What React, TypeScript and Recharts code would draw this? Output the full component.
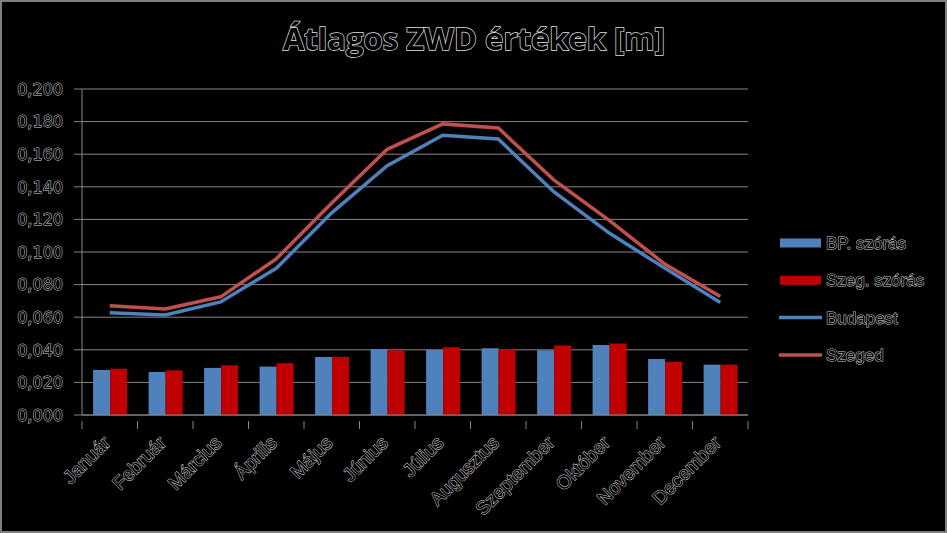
import React from "react";
import {
  ComposedChart,
  Bar,
  Line,
  XAxis,
  YAxis,
  CartesianGrid,
  Legend,
} from "recharts";

const months = [
  "Január", "Február", "Március", "Április", "Május", "Június",
  "Július", "Augusztus", "Szeptember", "Október", "November", "December",
];

const bpSzoras = [0.0276, 0.0264, 0.0289, 0.0297, 0.0356, 0.0405, 0.0399, 0.041, 0.0397, 0.043, 0.0344, 0.0309];
const szegSzoras = [0.0284, 0.0274, 0.0305, 0.0317, 0.0358, 0.0397, 0.0416, 0.0403, 0.0426, 0.0438, 0.0327, 0.0309];
const budapest = [0.0627, 0.0614, 0.0694, 0.09, 0.124, 0.153, 0.1716, 0.1693, 0.137, 0.1116, 0.0901, 0.069];
const szeged = [0.067, 0.065, 0.0725, 0.0958, 0.13, 0.163, 0.1786, 0.1761, 0.1443, 0.1194, 0.0926, 0.0727];

const yTicks = [0, 0.02, 0.04, 0.06, 0.08, 0.1, 0.12, 0.14, 0.16, 0.18, 0.2];

const seriesNames = ["BP. szórás", "Szeg. szórás", "Budapest", "Szeged"];
const seriesColors = ["#4F81BD", "#C00000", "#4F81BD", "#C0504D"];

const data = months.map((m, i) => ({
  month: m,
  bp: bpSzoras[i],
  szeg: szegSzoras[i],
  budapest: budapest[i],
  szeged: szeged[i],
}));

const W = 943;
const H = 529;
const MARGIN = { top: 87, right: 197, bottom: 16, left: 0 };
const Y_W = 80;
const GRID = "#868686";

// black glyphs with a thin light rim, like the original transparent export
const outline = {
  fill: "#000",
  stroke: "#d4d4d4",
  strokeWidth: 1,
  paintOrder: "stroke",
} as any;

const fmt = (v: number) => v.toFixed(3).replace(".", ",");

const YTick = ({ x, y, payload }: any) => (
  <text x={x} y={y} dy="0.36em" textAnchor="end" fontFamily="DejaVu Sans" fontSize={16} style={outline}>
    {fmt(payload.value)}
  </text>
);

const band = (W - MARGIN.left - MARGIN.right - Y_W) / months.length;

const XTick = ({ x, y, payload, index }: any) => {
  const tx = x + 2;
  const ty = y + 21;
  return (
    <g>
      <line x1={x - band / 2} x2={x - band / 2} y1={y - 2} y2={y + 6} stroke={GRID} />
      {index === months.length - 1 && (
        <line x1={x + band / 2} x2={x + band / 2} y1={y - 2} y2={y + 6} stroke={GRID} />
      )}
      <text
        x={tx}
        y={ty}
        transform={`rotate(-45, ${tx}, ${ty})`}
        textAnchor="end"
        fontFamily="Liberation Sans"
        fontSize={19}
        style={outline}
      >
        {payload.value}
      </text>
    </g>
  );
};

const LegendBox = () => (
  <svg width={170} height={160}>
    {seriesNames.map((name, i) => {
      const cy = 18 + i * 37.3;
      return (
        <g key={name}>
          {i < 2 ? (
            <rect x={2} y={cy - 4.5} width={41} height={9} fill={seriesColors[i]} />
          ) : (
            <line x1={1} x2={44} y1={cy} y2={cy} stroke={seriesColors[i]} strokeWidth={3.5} />
          )}
          <text x={48} y={cy} dy="0.36em" fontFamily="Liberation Sans" fontSize={17} style={outline}>
            {name}
          </text>
        </g>
      );
    })}
  </svg>
);

export default function App() {
  return (
    <div
      style={{
        position: "fixed",
        left: 0,
        top: 0,
        width: 947,
        height: 533,
        boxSizing: "border-box",
        border: "2px solid #7f7f7f",
        background: "#000",
      }}
    >
      <svg width={W} height={70} style={{ position: "absolute", left: 0, top: 0 }}>
        <text
          x={472}
          y={48}
          textAnchor="middle"
          fontFamily="Open Sans"
          fontWeight={700}
          fontSize={31}
          style={{ ...outline, stroke: "#e0e0e0", strokeWidth: 1.4 }}
        >
          Átlagos ZWD értékek [m]
        </text>
      </svg>
      <div style={{ position: "absolute", left: 0, top: 0 }}>
        <ComposedChart width={W} height={H} data={data} margin={MARGIN} barCategoryGap="20%" barGap={0}>
          <CartesianGrid vertical={false} stroke={GRID} />
          <XAxis
            dataKey="month"
            height={100}
            interval={0}
            tickLine={false}
            axisLine={{ stroke: GRID }}
            tick={<XTick />}
          />
          <YAxis
            width={Y_W}
            domain={[0, 0.2]}
            ticks={yTicks}
            interval={0}
            tickSize={8}
            tickMargin={11}
            tickLine={{ stroke: GRID }}
            axisLine={{ stroke: GRID }}
            tick={<YTick />}
          />
          <Bar dataKey="bp" name={seriesNames[0]} fill={seriesColors[0]} isAnimationActive={false} />
          <Bar dataKey="szeg" name={seriesNames[1]} fill={seriesColors[1]} isAnimationActive={false} />
          <Line dataKey="budapest" name={seriesNames[2]} stroke={seriesColors[2]} strokeWidth={3.5} dot={false} type="linear" isAnimationActive={false} />
          <Line dataKey="szeged" name={seriesNames[3]} stroke={seriesColors[3]} strokeWidth={3.5} dot={false} type="linear" isAnimationActive={false} />
          <Legend
            layout="horizontal"
            verticalAlign="middle"
            align="center"
            wrapperStyle={{ left: 776, top: 223, width: 170, height: 160 }}
            content={<LegendBox />}
          />
        </ComposedChart>
      </div>
    </div>
  );
}
